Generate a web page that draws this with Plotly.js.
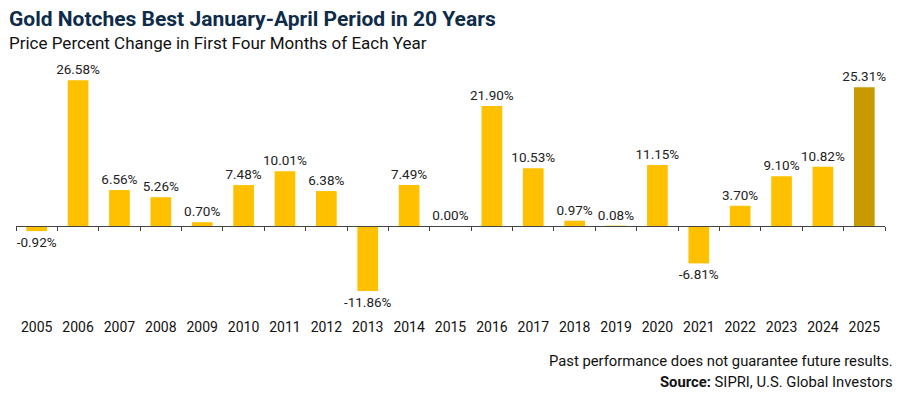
<!DOCTYPE html>
<html>
<head>
<meta charset="utf-8">
<script src="https://cdn.plot.ly/plotly-3.0.1.min.js"></script>
<style>
html,body{margin:0;padding:0;background:#fff;}
#chart{width:900px;height:395px;}
</style>
</head>
<body>
<div id="chart"></div>
<script>
var years = ["2005","2006","2007","2008","2009","2010","2011","2012","2013","2014","2015","2016","2017","2018","2019","2020","2021","2022","2023","2024","2025"];
var changes = [-0.92,26.58,6.56,5.26,0.70,7.48,10.01,6.38,-11.86,7.49,0.00,21.90,10.53,0.97,0.08,11.15,-6.81,3.70,9.10,10.82,25.31];
var highlightYear = "2025";

var barColor = "#FFC000";
var highlightColor = "#C99A00";
var colors = years.map(function(y){ return y === highlightYear ? highlightColor : barColor; });

var yMin = -14.4, yMax = 31.2;
var zeroPos = (0 - yMin) / (yMax - yMin);

var traces = [
  {
    type: "bar",
    x: years,
    y: changes,
    marker: {color: colors},
    texttemplate: "%{y:.2f}%",
    textposition: "outside",
    constraintext: "none",
    cliponaxis: false,
    textfont: {family: "Roboto, 'Noto Sans', sans-serif", size: 13.5, color: "#222"},
    hoverinfo: "x+y"
  },
  {
    type: "scatter",
    mode: "none",
    x: years,
    y: years.map(function(){ return 0; }),
    xaxis: "x2",
    yaxis: "y",
    hoverinfo: "skip",
    showlegend: false
  }
];

var layout = {
  width: 900,
  height: 395,
  margin: {l: 16, r: 15, t: 55, b: 90},
  paper_bgcolor: "#fff",
  plot_bgcolor: "#fff",
  showlegend: false,
  bargap: 0.5,
  font: {family: "Roboto, 'Noto Sans', sans-serif", color: "#111"},
  xaxis: {
    type: "category",
    categoryarray: years,
    showline: false,
    showgrid: false,
    zeroline: false,
    ticks: "",
    ticklabelstandoff: 12,
    tickfont: {size: 14, color: "#111"}
  },
  xaxis2: {
    type: "category",
    categoryarray: years,
    overlaying: "x",
    matches: "x",
    anchor: "free",
    position: zeroPos,
    showline: true,
    linecolor: "#444",
    linewidth: 1,
    ticks: "outside",
    tickson: "boundaries",
    ticklen: 4,
    tickcolor: "#444",
    showticklabels: false,
    showgrid: false,
    zeroline: false
  },
  yaxis: {
    range: [yMin, yMax],
    visible: false,
    showgrid: false,
    zeroline: false,
    fixedrange: true
  }
};

var plotW = 900 - 16 - 15, plotH = 395 - 55 - 90;
function px(xp){ return (xp - 16) / plotW; }
function py(yp){ return (395 - 90 - yp) / plotH; }

layout.annotations = [
  {
    xref: "paper", yref: "paper", x: px(7), y: py(19),
    xanchor: "left", yanchor: "middle", showarrow: false,
    text: "<b>Gold Notches Best January-April Period in 20 Years</b>",
    font: {family: "Roboto, 'Noto Sans', sans-serif", size: 21, color: "#0E2C4A", weight: 900}
  },
  {
    xref: "paper", yref: "paper", x: px(7), y: py(43),
    xanchor: "left", yanchor: "middle", showarrow: false,
    text: "Price Percent Change in First Four Months of Each Year",
    font: {family: "Roboto, 'Noto Sans', sans-serif", size: 17, color: "#111"}
  },
  {
    xref: "paper", yref: "paper", x: px(895), y: py(361),
    xanchor: "right", yanchor: "middle", showarrow: false,
    text: "Past performance does not guarantee future results.",
    font: {family: "Roboto, 'Noto Sans', sans-serif", size: 14.8, color: "#111"}
  },
  {
    xref: "paper", yref: "paper", x: px(895), y: py(382),
    xanchor: "right", yanchor: "middle", showarrow: false,
    text: "<b>Source:</b> SIPRI, U.S. Global Investors",
    font: {family: "Roboto, 'Noto Sans', sans-serif", size: 14.8, color: "#111"}
  }
];

Plotly.newPlot("chart", traces, layout, {displayModeBar: false, staticPlot: true});
</script>
</body>
</html>
